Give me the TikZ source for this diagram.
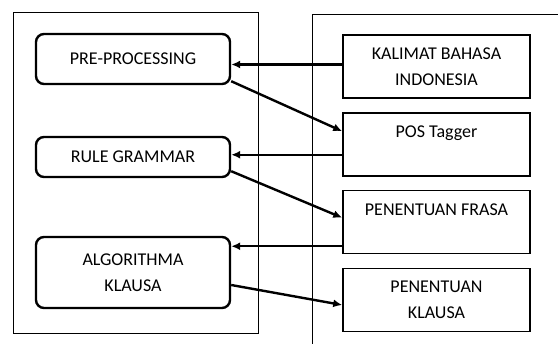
\documentclass[tikz,border=0pt]{standalone}
\usepackage{fontspec}
\setmainfont{Carlito}
\usetikzlibrary{positioning,arrows.meta}

\begin{document}
\begin{tikzpicture}[
  x=1pt, y=-1pt,
  every node/.style={align=center, font=\fontsize{18}{25.5}\selectfont, inner sep=0pt},
  prosesbox/.style={draw, line width=2.4pt, rounded corners=8pt, minimum width=194pt},
  databox/.style={draw, line width=1.5pt, minimum width=187pt, minimum height=63pt},
  arrow/.style={-{Latex[length=9pt,width=8pt]}, line width=2.4pt}
]
\useasboundingbox (0,0) rectangle (558,344);
% panel kiri dan kanan
\draw[line width=0.8pt] (13,12) rectangle (258,333);
\draw[line width=0.8pt] (312,344) -- (312,14) -- (558,14);

\node (prepro) [prosesbox, minimum height=50pt] at (133,59) {PRE-PROCESSING};
\node (rulegram) [prosesbox, minimum height=40pt] at (133,157) {RULE GRAMMAR};
\node (algoklausa) [prosesbox, minimum height=71pt] at (133,272.5) {ALGORITHMA\\KLAUSA};

\node (kalimat) [databox] at (436.5,66.5) {KALIMAT BAHASA\\INDONESIA};
\node (postagger) [databox] at (436.5,144.5) {POS Tagger\\~};
\node (frasa) [databox] at (436.5,222) {PENENTUAN FRASA\\~};
\node (klausa) [databox] at (436.5,300) {PENENTUAN\\KLAUSA};

\draw[arrow] ([yshift=2pt]kalimat.west) -- ([yshift=2pt]kalimat.west -| prepro.east);
\draw[arrow] ([yshift=4pt]prepro.south east) -- ([yshift=-19pt]postagger.north west);
\draw[arrow] ([yshift=22pt]postagger.south west) -- ([yshift=22pt]postagger.south west -| rulegram.east);
\draw[arrow] ([yshift=7pt]rulegram.south east) -- ([yshift=-28pt]frasa.north west);
\draw[arrow] ([yshift=8pt]frasa.south west) -- ([yshift=8pt]frasa.south west -| algoklausa.east);
\draw[arrow] ([yshift=-12.5pt]algoklausa.east) -- ([yshift=-5pt]klausa.west);
\end{tikzpicture}
\end{document}
